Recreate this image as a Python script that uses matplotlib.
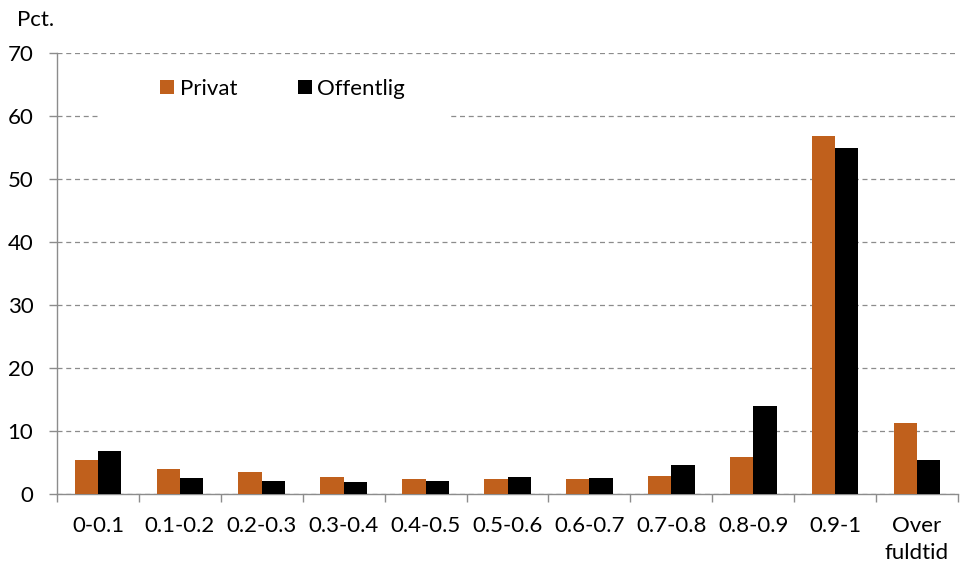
import matplotlib
matplotlib.use("Agg")
import matplotlib.pyplot as plt
from matplotlib.patches import Rectangle
import numpy as np

plt.rcParams['font.family'] = ['Lato', 'DejaVu Sans']

categories = ["0-0.1", "0.1-0.2", "0.2-0.3", "0.3-0.4", "0.4-0.5", "0.5-0.6",
              "0.6-0.7", "0.7-0.8", "0.8-0.9", "0.9-1", "Over\nfuldtid"]
privat = [5.4, 3.9, 3.45, 2.75, 2.45, 2.45, 2.35, 2.85, 5.9, 56.8, 11.3]
offentlig = [6.9, 2.55, 2.1, 1.95, 2.05, 2.75, 2.55, 4.65, 13.9, 54.9, 5.4]
yticks = [0, 10, 20, 30, 40, 50, 60, 70]

FS = 16
fig = plt.figure(figsize=(9.61, 5.65), dpi=100)
ax = fig.add_axes([57/961, 1-494/565, 901/961, 441/565])

x = np.arange(len(categories))
w = 0.285
ax.bar(x - w/2, privat, w, color='#C0601C', label='Privat', zorder=3)
ax.bar(x + w/2, offentlig, w, color='#000000', label='Offentlig', zorder=3)

ax.set_xlim(-0.5, len(categories) - 0.5)
ax.set_ylim(0, 70)
ax.set_yticks(yticks)
ax.yaxis.grid(True, linestyle=(0, (4, 3)), color='#8C8C8C', linewidth=0.9, zorder=0)
ax.set_xticks(x)
ax.set_xticklabels(categories, fontsize=FS, linespacing=1.4)
ax.set_xticks(np.arange(-0.5, len(categories) + 0.5, 1), minor=True)
ax.tick_params(axis='x', which='major', length=0, pad=16)
ax.tick_params(axis='x', which='minor', length=6, color='#8C8C8C', width=1)
ax.tick_params(axis='y', length=6, color='#8C8C8C', width=1, labelsize=FS, pad=11)

for s in ['top', 'right']:
    ax.spines[s].set_visible(False)
for s in ['left', 'bottom']:
    ax.spines[s].set_color('#8C8C8C')
    ax.spines[s].set_linewidth(1)

fig.text(17/961, 1-20/565, 'Pct.', fontsize=FS, va='center', ha='left')

# white legend background box
ax.add_patch(Rectangle(((100-57)/901, (494-122)/441), 350/901, 62/441,
                       transform=ax.transAxes, facecolor='white',
                       edgecolor='none', zorder=2))

leg = ax.legend(loc='center left', bbox_to_anchor=((160-57)/901, (494-89)/441),
                ncol=2, frameon=False, fontsize=FS, handlelength=0.63,
                handleheight=0.63, handletextpad=0.27, columnspacing=2.7,
                borderpad=0, borderaxespad=0)
leg.set_zorder(5)

fig.savefig('out.png', dpi=100)
